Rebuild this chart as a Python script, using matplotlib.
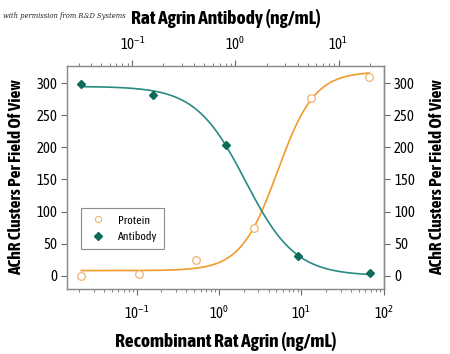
import numpy as np
import matplotlib
matplotlib.use('Agg')
from matplotlib import pyplot as plt
from matplotlib.lines import Line2D

# Dados
protein_conc = [0.0213, 0.107, 0.533, 2.67, 13.3, 66.7]     # ng/mL (eixo inferior)
protein_clusters = [0, 3, 24, 75, 277, 310]
antibody_conc = [0.032, 0.16, 0.8, 4.0, 20.0]               # ng/mL (eixo superior)
antibody_clusters = [298, 282, 204, 31, 4]

# parametros do ajuste 4PL (valor em x->0, valor em x->inf, EC50, hill)
protein_fit = [8, 318, 5.16, 1.93]
antibody_fit = [295, 0, 1.25, 1.8]

yticks = [0, 50, 100, 150, 200, 250, 300]

c_prot_line = '#f39a2c'
c_prot_mark = '#f2b274'
c_ab_line = '#2a8a82'
c_ab_mark = '#0e6b5a'

plt.rcParams['font.family'] = ['Asap Condensed', 'DejaVu Sans']
plt.rcParams['mathtext.fontset'] = 'custom'
plt.rcParams['mathtext.rm'] = 'Asap Condensed'
plt.rcParams['mathtext.it'] = 'Asap Condensed'
plt.rcParams['mathtext.default'] = 'rm'


def logistic(x, p):
    b, t, ec, h = p
    return b + (t - b) / (1 + (ec / x) ** h)


fig = plt.figure(figsize=(4.5, 3.54), dpi=100)
ax = fig.add_axes([0.149, 0.183, 0.705, 0.631])
ax.set_xscale('log')
ax.set_xlim(0.01428, 102)
ax.set_ylim(-21, 327)

xs = np.logspace(np.log10(protein_conc[0]), np.log10(protein_conc[-1]), 300)
ax.plot(xs, logistic(xs, protein_fit), color=c_prot_line, lw=1.2)
ax.plot(protein_conc, protein_clusters, 'o', mfc='white', mec=c_prot_mark,
        ms=5.5, mew=0.9, zorder=3)

ax2 = ax.twiny()
ax2.set_xscale('log')
ax2.set_xlim(0.0232, 27.8)
xa = np.logspace(np.log10(antibody_conc[0]), np.log10(antibody_conc[-1]), 300)
ax2.plot(xa, logistic(xa, antibody_fit), color=c_ab_line, lw=1.2)
ax2.plot(antibody_conc, antibody_clusters, 'D', color=c_ab_mark, ms=4.5, zorder=3)

ax.set_yticks(yticks)
axr = ax.secondary_yaxis('right')
axr.set_yticks(yticks)

for a in (ax, ax2, axr):
    for s in a.spines.values():
        s.set_color('#8a8a8a')
        s.set_linewidth(0.9)
    a.tick_params(which='major', direction='out', length=4, width=0.8,
                  color='#6a6a6a', labelsize=10.5, pad=3)
    a.tick_params(which='minor', direction='out', length=2.5, width=0.6,
                  color='#6a6a6a')
ax.tick_params(axis='y', which='minor', left=False)
ax.tick_params(axis='x', which='major', pad=7)
ax2.tick_params(axis='x', which='major', pad=5)

ax.set_xlabel('Recombinant Rat Agrin (ng/mL)', fontsize=14, fontweight='bold', labelpad=7)
ax2.set_xlabel('Rat Agrin Antibody (ng/mL)', fontsize=14, fontweight='bold', labelpad=9)
ax.set_ylabel('AChR Clusters Per Field Of View', fontsize=12.5, fontweight='bold', labelpad=9)
axr.set_ylabel('AChR Clusters Per Field Of View', fontsize=12.5, fontweight='bold', labelpad=10)

handles = [Line2D([], [], ls='', marker='o', mfc='white', mec=c_prot_mark, ms=4.5, mew=0.8),
           Line2D([], [], ls='', marker='D', color=c_ab_mark, ms=4)]
leg = ax2.legend(handles, ['Protein', 'Antibody'], loc='lower left',
                 bbox_to_anchor=(0.044, 0.18), borderaxespad=0, fontsize=8.5,
                 fancybox=False, edgecolor='#707070', handletextpad=0.9,
                 borderpad=0.6, labelspacing=0.45, handlelength=1.6)
leg.get_frame().set_linewidth(0.8)

fig.text(0.006, 0.955, 'with permission from R&D Systems', family='DejaVu Serif',
         style='italic', fontsize=4.9, color='#222222', va='center')

fig.savefig('out.png', dpi=100)
